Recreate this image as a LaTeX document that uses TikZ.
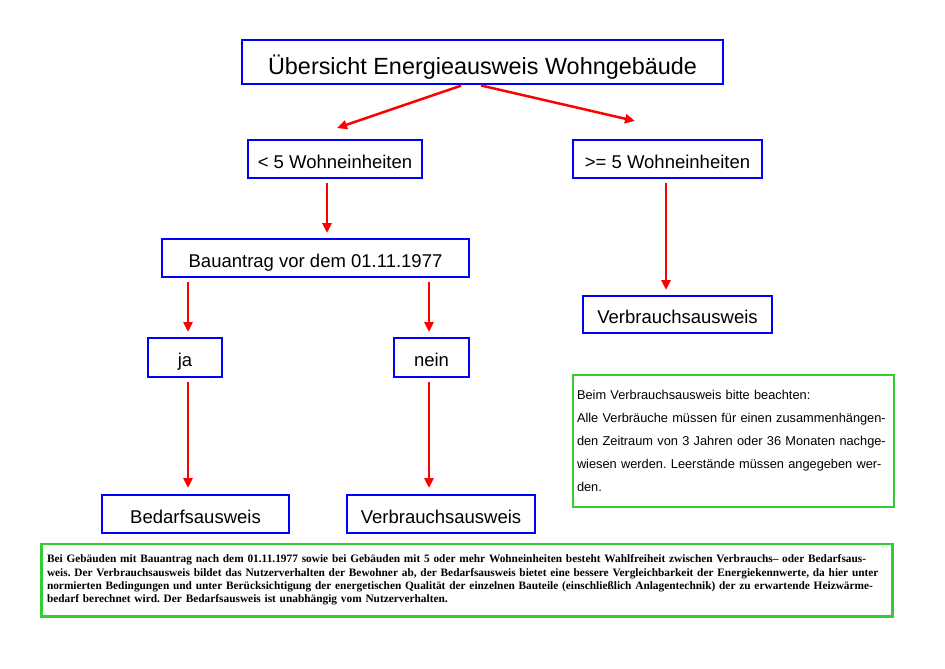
\documentclass[tikz,border=0pt]{standalone}
\usepackage{fontspec}
\setmainfont{Liberation Sans}
\newfontfamily\infofont{Liberation Serif}
\usetikzlibrary{arrows.meta}
\definecolor{boxblue}{RGB}{0,0,255}
\definecolor{notegreen}{RGB}{51,204,51}
\definecolor{arrowred}{RGB}{255,0,0}
\frenchspacing
\newcommand\fullline[1]{\makebox[830pt][s]{#1}}
\tikzset{
  stepbox/.style={draw=boxblue, line width=2pt, minimum height=38pt, inner sep=0pt,
    text height=18.2pt, text depth=0pt, font=\fontsize{18.5}{22}\selectfont},
  notebox/.style={draw=notegreen, line width=2.5pt, inner xsep=4pt, inner ysep=0pt, align=left},
  flow/.style={->, draw=arrowred, line width=2.5pt, shorten <=4pt, shorten >=5pt}
}
\begin{document}
\begin{tikzpicture}[x=1pt, y=-1pt, >={Triangle[length=10pt,width=9pt]}]
\useasboundingbox (0,0) rectangle (945,669);
\node[stepbox, minimum width=481pt, minimum height=44pt, text height=25.8pt,
  font=\fontsize{23.4}{28}\selectfont] (title) at (482.5,62) {Übersicht Energieausweis Wohngebäude};
\node[stepbox, minimum width=174pt] (lt5) at (335,159) {< 5 Wohneinheiten};
\node[stepbox, minimum width=189pt] (ge5) at (667.5,159) {>= 5 Wohneinheiten};
\node[stepbox, minimum width=307pt] (bau) at (315.5,258) {Bauantrag vor dem 01.11.1977};
\node[stepbox, minimum width=189pt, minimum height=37pt] (vbr) at (677.5,314.5) {Verbrauchsausweis};
\node[stepbox, minimum width=74pt, minimum height=39pt] (ja) at (185,357.5) {ja};
\node[stepbox, minimum width=75pt, minimum height=39pt] (nein) at (431.5,357.5) {nein};
\node[stepbox, minimum width=187pt] (bed) at (195.5,514) {Bedarfsausweis};
\node[stepbox, minimum width=188pt] (vbl) at (441,514) {Verbrauchsausweis};

\node[notebox, minimum width=321pt, minimum height=132pt, text width=313pt,
  font=\fontsize{12.8}{23}\selectfont] (hint) at (733.5,441)
  {Beim Verbrauchsausweis bitte beachten:\\
   Alle Verbräuche müssen für einen zusammenhängen-\\
   den Zeitraum von 3 Jahren oder 36 Monaten nachge-\\
   wiesen werden. Leerstände müssen angegeben wer-\\
   den.\par\vspace*{14pt}};
\node[notebox, minimum width=851pt, minimum height=72.5pt, text width=840pt, inner xsep=5.5pt,
  font=\infofont\bfseries\fontsize{11.35}{13.2}\selectfont] (info) at (467,580)
  {\fullline{Bei Gebäuden mit Bauantrag nach dem 01.11.1977 sowie bei Gebäuden mit 5 oder mehr Wohneinheiten besteht Wahlfreiheit zwischen Verbrauchs– oder Bedarfsaus-}\\
   \fullline{weis. Der Verbrauchsausweis bildet das Nutzerverhalten der Bewohner ab, der Bedarfsausweis bietet eine bessere Vergleichbarkeit der Energiekennwerte, da hier unter}\\
   \fullline{normierten Bedingungen und unter Berücksichtigung der energetischen Qualität der einzelnen Bauteile (einschließlich Anlagentechnik) der zu erwartende Heizwärme-}\\
   bedarf berechnet wird. Der Bedarfsausweis ist unabhängig vom Nutzerverhalten.\par\vspace*{8pt}};

\draw[flow, shorten <=2pt, shorten >=0pt] ([xshift=-19.5pt]title.south) -- ([xshift=2pt,yshift=11pt]lt5.north);
\draw[flow, shorten <=2pt, shorten >=0pt] ([xshift=-3.5pt]title.south) -- ([xshift=-32.5pt,yshift=18pt]ge5.north);
\draw[flow] ([xshift=-8pt]lt5.south) -- ([xshift=-8pt]lt5.south |- bau.north);
\draw[flow] ([xshift=-1.5pt]ge5.south) -- ([xshift=-1.5pt]ge5.south |- vbr.north);
\draw[flow] ([xshift=3pt]ja.north |- bau.south) -- ([xshift=3pt]ja.north);
\draw[flow] ([xshift=-2.5pt]nein.north |- bau.south) -- ([xshift=-2.5pt]nein.north);
\draw[flow, shorten >=6pt] ([xshift=3pt]ja.south) -- ([xshift=3pt]ja.south |- bed.north);
\draw[flow, shorten >=6pt] ([xshift=-2.5pt]nein.south) -- ([xshift=-2.5pt]nein.south |- vbl.north);
\end{tikzpicture}
\end{document}
